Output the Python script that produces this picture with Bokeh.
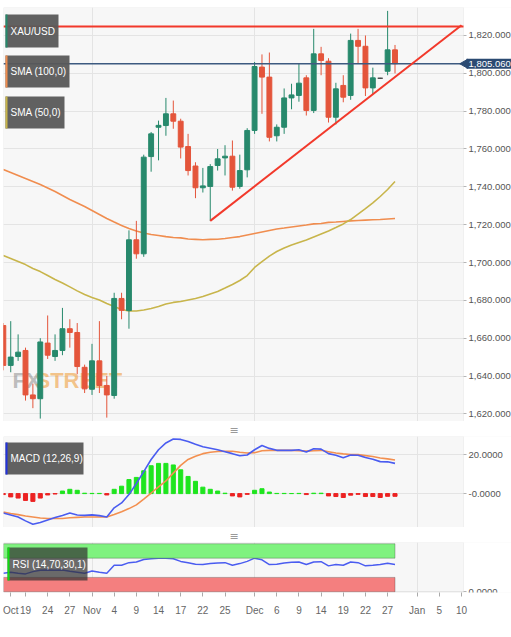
import math
import pandas as pd
from bokeh.plotting import figure
from bokeh.layouts import column
from bokeh.models import (ColumnDataSource, BoxAnnotation, Label, FixedTicker,
                          NumeralTickFormatter, Range1d, LinearAxis)
from bokeh.embed import file_html
from bokeh.resources import INLINE

# ---------------- data (daily XAU/USD, business-day calendar) ----------------
first_day = "2022-10-14"
last_axis_day = "2023-01-20"

opens = [1666.7, 1645.6, 1650.3, 1653.5, 1630.0, 1628.0, 1657.4, 1650.3, 1653.5, 1665.0,
         1663.0, 1644.6, 1633.0, 1648.0, 1635.0, 1629.7, 1681.0, 1674.6, 1712.0, 1704.6,
         1756.0, 1771.5, 1772.4, 1778.6, 1774.7, 1761.3, 1751.0, 1739.5, 1740.2, 1751.3,
         1755.3, 1756.2, 1740.2, 1749.0, 1769.8, 1803.3, 1798.0, 1767.0, 1771.5, 1787.0,
         1788.3, 1797.6, 1780.4, 1810.3, 1806.4, 1776.8, 1793.6, 1788.3, 1817.4, 1814.3,
         1792.3, 1797.4, 1801.1, 1812.4]
highs = [1668.0, 1669.0, 1662.0, 1655.0, 1636.0, 1660.0, 1672.0, 1662.0, 1676.0, 1670.0,
         1668.0, 1646.0, 1657.0, 1669.0, 1640.0, 1684.0, 1684.0, 1717.0, 1722.0, 1757.0,
         1769.0, 1775.0, 1787.0, 1785.6, 1776.0, 1768.0, 1753.0, 1750.0, 1752.0, 1760.0,
         1762.0, 1764.5, 1757.0, 1771.0, 1806.0, 1810.0, 1811.0, 1773.0, 1792.0, 1794.5,
         1805.0, 1799.0, 1823.5, 1814.0, 1808.0, 1795.0, 1799.0, 1821.0, 1823.5, 1820.0,
         1803.0, 1797.6, 1833.0, 1815.0]
lows = [1643.0, 1642.0, 1648.0, 1627.0, 1623.0, 1617.5, 1649.0, 1648.0, 1651.0, 1655.0,
        1641.0, 1631.0, 1630.0, 1631.0, 1618.0, 1628.0, 1670.0, 1665.0, 1702.0, 1703.0,
        1748.0, 1754.0, 1767.0, 1770.7, 1755.0, 1746.0, 1734.0, 1737.0, 1722.0, 1748.6,
        1746.0, 1738.0, 1739.0, 1745.0, 1768.0, 1778.6, 1764.0, 1764.0, 1768.0, 1781.0,
        1785.0, 1777.7, 1779.0, 1799.0, 1774.0, 1773.0, 1784.7, 1786.0, 1805.0, 1788.0,
        1789.0, 1797.2, 1799.0, 1800.0]
closes = [1645.6, 1650.0, 1652.6, 1630.0, 1628.0, 1658.0, 1651.0, 1653.5, 1665.0, 1663.0,
          1645.0, 1633.2, 1648.0, 1635.0, 1630.0, 1681.0, 1674.7, 1712.0, 1704.6, 1755.7,
          1768.0, 1772.5, 1778.6, 1774.7, 1761.0, 1748.6, 1739.5, 1740.5, 1750.7, 1754.8,
          1756.2, 1739.8, 1748.6, 1769.8, 1803.6, 1798.0, 1766.2, 1771.5, 1787.0, 1788.6,
          1794.8, 1780.4, 1810.3, 1806.8, 1776.8, 1791.8, 1787.4, 1817.4, 1814.3, 1792.3,
          1797.6, 1797.4, 1812.4, 1805.06]
sma100 = [1749.2, 1747.6, 1746.0, 1744.4, 1742.8, 1741.2, 1739.4, 1737.5, 1735.4, 1733.3,
          1731.5, 1729.6, 1727.5, 1725.4, 1723.3, 1721.4, 1719.6, 1718.0, 1716.7, 1715.6,
          1714.8, 1714.3, 1713.7, 1713.2, 1713.0, 1712.4, 1712.2, 1712.0, 1712.2, 1712.3,
          1712.7, 1713.2, 1713.7, 1714.5, 1715.3, 1716.1, 1716.9, 1717.7, 1718.2, 1718.8,
          1719.3, 1719.8, 1720.4, 1720.6, 1721.2, 1721.4, 1721.7, 1722.0, 1722.2, 1722.4,
          1722.6, 1722.7, 1723.0, 1723.3]
sma50 = [1703.7, 1702.1, 1700.5, 1698.9, 1696.8, 1695.2, 1693.1, 1691.0, 1689.2, 1687.1,
         1685.0, 1683.1, 1681.5, 1680.2, 1678.3, 1676.7, 1675.2, 1674.4, 1674.4, 1674.9,
         1675.7, 1676.7, 1678.1, 1678.9, 1679.4, 1680.2, 1681.0, 1682.0, 1683.4, 1684.7,
         1686.5, 1688.4, 1690.5, 1693.1, 1697.4, 1700.5, 1703.4, 1705.8, 1707.7, 1709.3,
         1710.6, 1711.9, 1713.5, 1715.1, 1716.7, 1718.5, 1720.4, 1722.7, 1725.6, 1728.5,
         1731.5, 1734.9, 1738.6, 1742.8]
macd_line = [-10.0, -11.0, -12.0, -14.0, -15.7, -14.8, -13.5, -12.3, -11.2, -10.0,
             -11.0, -11.2, -10.9, -11.3, -12.0, -7.3, -4.8, -0.5, 5.2, 11.3,
             17.5, 22.5, 26.0, 28.0, 27.8, 26.7, 25.3, 24.0, 23.3, 22.5,
             21.5, 20.5, 19.4, 19.8, 22.5, 24.7, 23.2, 22.2, 22.2, 22.2,
             22.5, 21.3, 23.0, 22.8, 20.5, 19.7, 18.4, 19.8, 19.7, 18.5,
             17.6, 16.4, 16.3, 15.5]
macd_signal = [-9.5, -10.2, -10.8, -11.5, -12.0, -12.5, -12.8, -12.8, -12.8, -12.4,
               -12.2, -12.0, -12.0, -12.0, -12.0, -10.7, -9.3, -7.7, -5.8, -2.8,
               0.3, 3.5, 6.5, 10.5, 14.5, 17.5, 19.2, 20.5, 21.2, 21.6,
               21.7, 21.7, 21.2, 20.8, 21.0, 22.0, 22.2, 22.2, 22.2, 22.2,
               22.0, 21.8, 22.0, 22.2, 21.5, 20.8, 20.4, 20.1, 20.0, 19.5,
               19.0, 18.3, 17.8, 17.2]
macd_hist = [-0.5, -1.7, -2.3, -3.5, -4.0, -2.3, -0.7, -0.2, 1.3, 2.2,
             1.7, 0.2, 0.1, 0.1, -0.7, 2.2, 3.8, 7.2, 8.3, 11.7,
             14.3, 15.5, 15.5, 14.7, 12.2, 8.8, 6.3, 3.3, 2.2, 1.3,
             0.2, -1.2, -1.7, -0.4, 1.7, 2.5, 0.8, 0.1, 0.1, 0.05,
             0.1, -0.5, 0.2, 0.2, -1.2, -1.5, -2.0, -0.8, -0.4, -1.5,
             -1.5, -2.0, -1.4, -1.4]
rsi = [38.7, 40.7, 38.7, 37.3, 42.0, 44.7, 45.3, 44.7, 45.3, 42.7,
       40.7, 38.7, 43.3, 40.7, 38.7, 55.3, 55.3, 60.7, 62.0, 67.3,
       68.7, 70.0, 70.0, 68.7, 63.3, 60.7, 57.3, 56.7, 58.7, 60.0,
       60.7, 55.3, 58.7, 63.3, 70.0, 66.7, 56.7, 57.3, 60.0, 61.3,
       62.0, 56.7, 62.0, 62.7, 54.0, 56.7, 55.3, 62.0, 60.7, 54.0,
       55.3, 56.7, 59.3, 56.7]

tick_dates = ["2022-10-17", "2022-10-19", "2022-10-24", "2022-10-27", "2022-11-01",
              "2022-11-04", "2022-11-09", "2022-11-14", "2022-11-17", "2022-11-22",
              "2022-11-25", "2022-12-01", "2022-12-06", "2022-12-09", "2022-12-14",
              "2022-12-19", "2022-12-22", "2022-12-27", "2023-01-02", "2023-01-05",
              "2023-01-10"]
tick_labels = ["Oct", "19", "24", "27", "Nov", "4", "9", "14", "17", "22", "25",
               "Dec", "6", "9", "14", "19", "22", "27", "Jan", "5", "10"]
month_dates = ["2022-11-01", "2022-12-01", "2023-01-02"]
price_ticks = [1620, 1640, 1660, 1680, 1700, 1720, 1740, 1760, 1780, 1800, 1820]
macd_ticks = [0, 20]
macd_tick_labels = ["-0.0000", "20.0000"]
rsi_ticks = [0]
rsi_tick_labels = ["0.0000"]
resistance_level = 1824.8
trend_dates = ["2022-11-23", "2023-01-10"]
trend_prices = [1722.0, 1825.4]
rsi_upper, rsi_lower, rsi_top = 70, 30, 100

# ---------------- helpers ----------------
cal = [d.strftime("%Y-%m-%d") for d in pd.bdate_range(first_day, last_axis_day)]
pos = {d: i for i, d in enumerate(cal)}
xs = list(range(len(opens)))
tick_pos = [pos[d] for d in tick_dates]
month_pos = [pos[d] for d in month_dates]
trend_x = [pos[d] for d in trend_dates]

GREEN, RED, DOJI = "#27896c", "#e4553b", "#444444"
cols = [GREEN if c > o else (RED if c < o else DOJI) for o, c in zip(opens, closes)]
hist_cols = ["#1ee51e" if v >= 0 else "#ec2222" for v in macd_hist]

FONT = "Liberation Sans, Arial, sans-serif"
FS = "10px"
AX_FS = "9.5px"
BG = "#f7f7f7"
NAVY = "#2b4a72"
W = 511
LB = 3
SCALE = 7.39                      # px per trading day
X_LO = 0.023
X_HI = X_LO + (W - LB) / SCALE
X_EDGE = X_LO + 460 / SCALE       # visible right edge of the panels
SHARED_X = Range1d(X_LO, X_HI)


def base_fig(height, y_range, top_border, bottom_border, ticks, overrides=None, fmt=None):
    f = figure(width=W, height=height, x_range=SHARED_X, y_range=y_range,
               output_backend="svg", toolbar_location=None,
               min_border_left=LB, min_border_right=0, min_border_top=top_border,
               min_border_bottom=bottom_border, background_fill_color=BG,
               border_fill_color="white", outline_line_color=None,
               y_axis_location="right", x_axis_location=None)
    f.xgrid.ticker = FixedTicker(ticks=month_pos)
    f.ygrid.ticker = FixedTicker(ticks=ticks)
    f.grid.grid_line_color = "#e4e4e4"
    # area right of the panel edge stays white, panel gets a thin outline
    f.add_layout(BoxAnnotation(left=X_EDGE, fill_color="white", fill_alpha=1,
                               line_color=None, level="underlay"))
    f.add_layout(BoxAnnotation(right=X_EDGE, fill_color=None, line_color="#d6d6d6",
                               line_width=1, level="underlay"))
    ax = f.yaxis[0]
    ax.fixed_location = X_EDGE
    ax.ticker = FixedTicker(ticks=ticks)
    if fmt is not None:
        ax.formatter = fmt
    if overrides is not None:
        ax.major_label_overrides = overrides
    ax.axis_line_color = None
    ax.major_tick_in = 0
    ax.major_tick_out = 3
    ax.major_tick_line_color = "#b5b5b5"
    ax.minor_tick_line_color = None
    ax.major_label_standoff = 2
    ax.major_label_text_font = FONT
    ax.major_label_text_font_size = AX_FS
    ax.major_label_text_color = "#555555"
    return f


def tag(f, left, right, bottom, top, stripe, text, fill="#585858", alpha=0.95):
    kw = dict(left_units="screen", right_units="screen", bottom_units="screen", top_units="screen",
              line_color=None)
    f.add_layout(BoxAnnotation(left=left, right=right, bottom=bottom, top=top,
                               fill_color=fill, fill_alpha=alpha, **kw))
    f.add_layout(BoxAnnotation(left=left, right=left + 2, bottom=bottom, top=top,
                               fill_color=stripe, fill_alpha=1, **kw))
    f.add_layout(Label(x=left + 5, y=(bottom + top) / 2, x_units="screen", y_units="screen",
                       text=text, text_color="white", text_font=FONT, text_font_size=FS,
                       text_baseline="middle", text_align="left"))


def handle(f):
    t = f.title
    t.text = "\u2261"
    t.align = "left"
    t.offset = 226
    t.standoff = 0
    t.text_font = "DejaVu Sans"
    t.text_font_size = "11px"
    t.text_font_style = "normal"
    t.text_color = "#9a9a9a"


# ---------------- main price panel ----------------
p = base_fig(421, Range1d(1615.95, 1834.80), 7, 0, price_ticks,
             fmt=NumeralTickFormatter(format="0,0.000"))

# watermark
p.add_layout(Label(x=9, y=29, x_units="screen", y_units="screen", text="FX",
                   text_color="#8a8a8a", text_alpha=0.55, text_font=FONT,
                   text_font_size="22px", text_font_style="bold", level="underlay"))
p.add_layout(Label(x=32, y=29, x_units="screen", y_units="screen", text="STREET",
                   text_color="#f0a040", text_alpha=0.6, text_font=FONT,
                   text_font_size="22px", text_font_style="bold", level="underlay"))

p.line(xs, sma100, color="#f08d4f", line_width=1.6)
p.line(xs, sma50, color="#c8b54b", line_width=1.6)

src = ColumnDataSource(dict(x=xs, high=highs, low=lows,
                            top=[max(o, c) for o, c in zip(opens, closes)],
                            bottom=[min(o, c) for o, c in zip(opens, closes)],
                            color=cols))
p.segment(x0="x", y0="high", x1="x", y1="low", color="color", line_width=1, source=src)
p.vbar(x="x", width=0.66, top="top", bottom="bottom", fill_color="color",
       line_color="color", line_width=1, source=src)

p.segment(x0=[X_LO], y0=[resistance_level], x1=[X_EDGE], y1=[resistance_level],
          line_color="#f2392b", line_width=2)
p.segment(x0=[X_LO], y0=[closes[-1]], x1=[X_EDGE], y1=[closes[-1]],
          line_color="#3d5a80", line_width=1.5)
p.line(trend_x, trend_prices, color="#f2392b", line_width=2)

# last-price tag on the axis
p.scatter(x=[X_EDGE + 1.5 / SCALE], y=[closes[-1]], marker="triangle", angle=math.pi / 2,
          size=9, fill_color=NAVY, line_color=NAVY)
p.add_layout(Label(x=X_EDGE, y=closes[-1], x_offset=3, text=f"{closes[-1]:,.3f}",
                   text_color="white", text_font=FONT, text_font_size=AX_FS,
                   text_baseline="middle", background_fill_color=NAVY, padding=2))

tag(p, 2, 55, 374, 407, GREEN, "XAU/USD")
tag(p, 2, 66, 334, 366, "#f08d4f", "SMA (100,0)")
tag(p, 2, 61, 293, 325, "#c8b54b", "SMA (50,0)")

# ---------------- MACD panel ----------------
p2 = base_fig(106, Range1d(-17.4, 29.3), 14, 0, macd_ticks,
              overrides=dict(zip(macd_ticks, macd_tick_labels)))
p2.vbar(x=xs, top=macd_hist, bottom=0, width=0.55, color=hist_cols)
p2.line(xs, macd_signal, color="#f39050", line_width=1.6)
p2.line(xs, macd_line, color="#4a5cf0", line_width=1.6)
tag(p2, 2, 80, 53, 85, "#2233dd", "MACD (12,26,9)")
handle(p2)

# ---------------- RSI panel ----------------
p3 = base_fig(105, Range1d(-1.4, 102.6), 13, 40, rsi_ticks,
              overrides=dict(zip(rsi_ticks, rsi_tick_labels)))
p3.add_layout(BoxAnnotation(bottom=rsi_upper, top=rsi_top, right=xs[-1], fill_color="#7ff27f",
                            fill_alpha=1, line_color="#333333", line_width=1))
p3.add_layout(BoxAnnotation(bottom=0, top=rsi_lower, right=xs[-1], fill_color="#f47f7f",
                            fill_alpha=1, line_color="#333333", line_width=1))
p3.line(xs, rsi, color="#4a5cf0", line_width=1.5)
tag(p3, 4, 84, 12, 45, "#11dd11", "RSI (14,70,30,1)", fill="#333333", alpha=0.72)
handle(p3)

xa = LinearAxis(ticker=FixedTicker(ticks=tick_pos),
                major_label_overrides=dict(zip(tick_pos, tick_labels)))
xa.axis_line_color = None
xa.major_tick_in = 0
xa.major_tick_out = 4
xa.major_tick_line_color = "#aaaaaa"
xa.minor_tick_line_color = None
xa.major_label_standoff = 8
xa.major_label_text_font = FONT
xa.major_label_text_font_size = FS
xa.major_label_text_color = "#666666"
p3.add_layout(xa, "below")

layout = column(p, p2, p3, spacing=0)
open("out.html", "w").write(file_html(layout, INLINE))
